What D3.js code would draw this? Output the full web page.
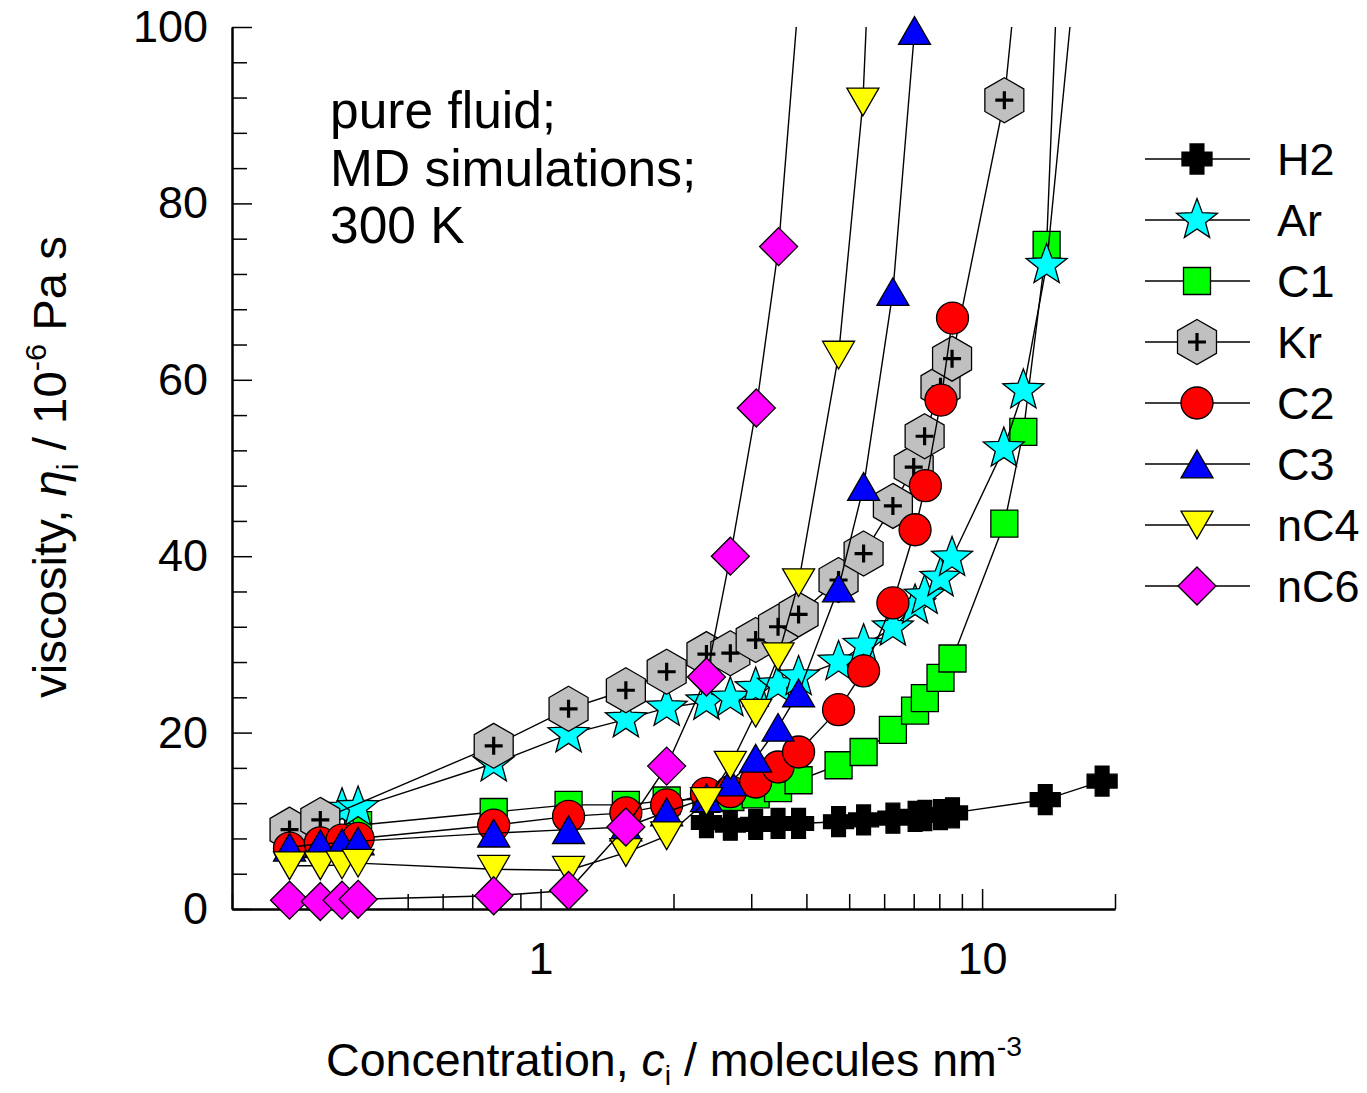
<!DOCTYPE html>
<html>
<head>
<meta charset="utf-8">
<script src="https://cdn.jsdelivr.net/npm/d3@7"></script>
<style>
  body { margin: 0; background: #fff; }
  svg { display: block; }
  text { font-family: "Liberation Sans", Arial, Helvetica, sans-serif; fill: #000; }
</style>
</head>
<body>
<svg id="chart" width="1367" height="1093"></svg>
<script>
// ---- data: concentration (molecules nm^-3) and viscosity (10^-6 Pa s) per fluid ----
// values above 100 are the next state point, outside the plotted range (line leaves the top)
const h2Conc  = [2.375, 2.69, 3.07, 3.45, 3.84, 4.73, 5.39, 6.28, 7.05, 7.42, 8.05, 8.57, 13.9, 18.7];
const h2Visc  = [9.8, 9.5, 9.6, 9.7, 9.7, 9.9, 10.1, 10.3, 10.5, 10.6, 10.7, 10.9, 12.4, 14.5];

const arConc  = [0.355, 0.386, 0.783, 1.157, 1.56, 1.93, 2.375, 2.69, 3.07, 3.45, 3.84, 4.73, 5.39, 6.28, 7.05, 7.41, 8.05, 8.55, 11.2, 12.4, 14.0, 18.1];
const arVisc  = [11.3, 11.5, 16.5, 19.8, 21.5, 22.8, 23.5, 23.9, 25.0, 25.4, 26.3, 28.0, 29.9, 31.9, 34.4, 35.5, 37.5, 39.8, 52.2, 58.8, 73.0, 130];

const c1Conc  = [0.386, 0.783, 1.157, 1.56, 1.93, 2.375, 2.69, 3.07, 3.45, 3.84, 4.73, 5.39, 6.28, 7.05, 7.42, 8.05, 8.57, 11.23, 12.4, 14.0, 15.5];
const c1Visc  = [9.5, 11.0, 11.8, 11.8, 12.3, 12.5, 12.7, 13.0, 13.7, 14.6, 16.3, 17.8, 20.3, 22.5, 23.9, 26.2, 28.4, 43.7, 54.1, 75.3, 130];

const krConc  = [0.27, 0.317, 0.783, 1.157, 1.56, 1.93, 2.375, 2.69, 3.07, 3.45, 3.84, 4.73, 5.39, 6.28, 7.0, 7.41, 8.05, 8.55, 11.23, 13.4];
const krVisc  = [9.0, 10.1, 18.5, 22.7, 24.8, 26.9, 28.9, 29.0, 30.5, 32.0, 33.4, 37.3, 40.3, 45.7, 50.1, 53.6, 59.2, 62.4, 91.7, 130];

const c2Conc  = [0.27, 0.317, 0.355, 0.386, 0.783, 1.157, 1.56, 1.93, 2.375, 2.69, 3.07, 3.45, 3.84, 4.73, 5.39, 6.28, 7.05, 7.44, 8.07, 8.57];
const c2Visc  = [6.9, 7.5, 7.8, 8.0, 9.5, 10.5, 10.9, 11.8, 13.1, 13.3, 14.4, 16.1, 17.8, 22.6, 27.0, 34.7, 43.0, 48.0, 57.7, 67.0];

const c3Conc  = [0.27, 0.317, 0.355, 0.386, 0.783, 1.157, 1.56, 1.93, 2.375, 2.69, 3.07, 3.45, 3.84, 4.73, 5.39, 6.28, 7.03];
const c3Visc  = [7.0, 7.4, 7.5, 7.7, 8.6, 9.0, 9.3, 11.0, 12.6, 14.4, 17.1, 20.6, 24.5, 36.4, 47.9, 70.0, 99.6];

const nc4Conc = [0.27, 0.317, 0.355, 0.386, 0.783, 1.157, 1.56, 1.93, 2.375, 2.69, 3.07, 3.45, 3.84, 4.73, 5.37, 5.8];
const nc4Visc = [4.9, 4.9, 5.0, 5.2, 4.5, 4.4, 6.4, 8.3, 12.2, 16.3, 22.2, 28.6, 37.0, 62.8, 91.5, 130];

const nc6Conc = [0.27, 0.317, 0.355, 0.386, 0.783, 1.157, 1.56, 1.93, 2.375, 2.69, 3.08, 3.46, 4.24];
const nc6Visc = [1.0, 0.85, 1.0, 1.1, 1.5, 2.1, 9.3, 16.2, 26.3, 40.0, 56.8, 75.1, 130];

const legendOrder = ["H2", "Ar", "C1", "Kr", "C2", "C3", "nC4", "nC6"];
const drawOrder   = ["H2", "C1", "Ar", "Kr", "C2", "C3", "nC4", "nC6"];
const xMajorTicks = [1, 10];
const yMajorTicks = [0, 20, 40, 60, 80, 100];

// ---- symbol shapes (size = characteristic width in px) ----
const shapes = {
  cross: { draw(ctx, s) { const h = s / 2, a = s * 0.23;
    ctx.moveTo(-a, -h); ctx.lineTo(a, -h); ctx.lineTo(a, -a); ctx.lineTo(h, -a); ctx.lineTo(h, a);
    ctx.lineTo(a, a); ctx.lineTo(a, h); ctx.lineTo(-a, h); ctx.lineTo(-a, a); ctx.lineTo(-h, a);
    ctx.lineTo(-h, -a); ctx.lineTo(-a, -a); ctx.closePath(); } },
  star: { draw(ctx, s) { const R = s / 2, r = R * 0.42;
    for (let i = 0; i < 10; i++) { const rad = i % 2 ? r : R, ang = -Math.PI / 2 + i * Math.PI / 5;
      const px = rad * Math.cos(ang), py = rad * Math.sin(ang);
      i ? ctx.lineTo(px, py) : ctx.moveTo(px, py); }
    ctx.closePath(); } },
  square: { draw(ctx, s) { const h = s / 2; ctx.rect(-h, -h, s, s); } },
  hexagon: { draw(ctx, s) { const R = s / 2;
    for (let i = 0; i < 6; i++) { const ang = -Math.PI / 2 + i * Math.PI / 3;
      const px = R * Math.cos(ang), py = R * Math.sin(ang);
      i ? ctx.lineTo(px, py) : ctx.moveTo(px, py); }
    ctx.closePath(); } },
  circle: { draw(ctx, s) { ctx.moveTo(s / 2, 0); ctx.arc(0, 0, s / 2, 0, 2 * Math.PI); } },
  triUp: { draw(ctx, s) { const h = s * 0.866 / 2;
    ctx.moveTo(0, -h); ctx.lineTo(s / 2, h); ctx.lineTo(-s / 2, h); ctx.closePath(); } },
  triDown: { draw(ctx, s) { const h = s * 0.866 / 2;
    ctx.moveTo(0, h); ctx.lineTo(s / 2, -h); ctx.lineTo(-s / 2, -h); ctx.closePath(); } },
  diamond: { draw(ctx, s) { const h = s / 2;
    ctx.moveTo(0, -h); ctx.lineTo(h, 0); ctx.lineTo(0, h); ctx.lineTo(-h, 0); ctx.closePath(); } }
};

const series = {
  H2:  { conc: h2Conc,  visc: h2Visc,  shape: "cross",   size: 30, fill: "#000000" },
  Ar:  { conc: arConc,  visc: arVisc,  shape: "star",    size: 43, fill: "#00FFFF" },
  C1:  { conc: c1Conc,  visc: c1Visc,  shape: "square",  size: 27, fill: "#00FF00" },
  Kr:  { conc: krConc,  visc: krVisc,  shape: "hexagon", size: 45, fill: "#C0C0C0", plus: true },
  C2:  { conc: c2Conc,  visc: c2Visc,  shape: "circle",  size: 32, fill: "#FF0000" },
  C3:  { conc: c3Conc,  visc: c3Visc,  shape: "triUp",   size: 32, fill: "#0000FF" },
  nC4: { conc: nc4Conc, visc: nc4Visc, shape: "triDown", size: 32, fill: "#FFFF00" },
  nC6: { conc: nc6Conc, visc: nc6Visc, shape: "diamond", size: 38, fill: "#FF00FF" }
};

// ---- layout ----
const svg = d3.select("#chart");
const plot = { left: 232, right: 1115, top: 27, bottom: 909 };
const x = d3.scaleLog().domain([0.2, 20]).range([plot.left, plot.right]);
const y = d3.scaleLinear().domain([0, 100]).range([plot.bottom, plot.top]);

svg.append("defs").append("clipPath").attr("id", "plotClip")
  .append("rect").attr("x", plot.left).attr("y", plot.top)
  .attr("width", plot.right - plot.left).attr("height", plot.bottom - plot.top);

// ---- axes ----
const xMinor = [];
[0.1, 1, 10].forEach(d => { for (let k = 2; k <= 9; k++) { const v = +(d * k).toPrecision(3); if (v >= 0.2 && v <= 20) xMinor.push(v); } });
const yMinor = d3.range(0, 101, 4).filter(v => v % 20 !== 0);

function styleAxis(g) {
  g.select(".domain").attr("stroke", "#000").attr("stroke-width", 2);
  g.selectAll(".tick line").attr("stroke", "#000").attr("stroke-width", 1.5);
  g.selectAll(".tick text").style("font-size", "45px").attr("fill", "#000");
}

svg.append("g").attr("transform", `translate(0,${plot.bottom})`)
  .call(d3.axisBottom(x).tickValues(xMinor).tickSizeInner(-15).tickSizeOuter(0).tickFormat(""))
  .call(styleAxis);
svg.append("g").attr("transform", `translate(0,${plot.bottom})`)
  .call(d3.axisBottom(x).tickValues(xMajorTicks).tickSizeInner(-20).tickSizeOuter(0).tickPadding(33).tickFormat(d3.format("d")))
  .call(styleAxis);
svg.append("g").attr("transform", `translate(${plot.left},0)`)
  .call(d3.axisLeft(y).tickValues(yMinor).tickSizeInner(-15).tickSizeOuter(0).tickFormat(""))
  .call(styleAxis);
svg.append("g").attr("transform", `translate(${plot.left},0)`)
  .call(d3.axisLeft(y).tickValues(yMajorTicks).tickSizeInner(-20).tickSizeOuter(0).tickPadding(24).tickFormat(d3.format("d")))
  .call(styleAxis);

// ---- series: connecting line then markers, one group per fluid ----
const line = d3.line().x(d => x(d[0])).y(d => y(d[1]));
drawOrder.forEach(name => {
  const s = series[name];
  const pts = s.conc.map((c, i) => [c, s.visc[i]]);
  const g = svg.append("g").attr("class", "series-" + name);
  g.append("path").attr("d", line(pts)).attr("clip-path", "url(#plotClip)")
    .attr("fill", "none").attr("stroke", "#000").attr("stroke-width", 1.4);
  const shown = pts.filter(d => d[1] <= 100.5);
  const sym = d3.symbol().type(shapes[s.shape]).size(s.size);
  g.selectAll("path.mk").data(shown).join("path").attr("class", "mk")
    .attr("transform", d => `translate(${x(d[0])},${y(d[1])})`)
    .attr("d", sym).attr("fill", s.fill).attr("stroke", "#000").attr("stroke-width", 1.3);
  if (s.plus) {
    g.selectAll("path.pl").data(shown).join("path").attr("class", "pl")
      .attr("transform", d => `translate(${x(d[0])},${y(d[1])})`)
      .attr("d", "M-9,0H9M0,-9V9").attr("stroke", "#000").attr("stroke-width", 3.2);
  }
});

// ---- legend ----
const legend = svg.append("g");
legendOrder.forEach((name, i) => {
  const s = series[name];
  const ly = 159 + i * 61;
  legend.append("line").attr("x1", 1145).attr("x2", 1250).attr("y1", ly).attr("y2", ly)
    .attr("stroke", "#000").attr("stroke-width", 1.4);
  legend.append("path").attr("transform", `translate(1197,${ly})`)
    .attr("d", d3.symbol().type(shapes[s.shape]).size(s.size)())
    .attr("fill", s.fill).attr("stroke", "#000").attr("stroke-width", 1.3);
  if (s.plus) legend.append("path").attr("transform", `translate(1197,${ly})`)
    .attr("d", "M-9,0H9M0,-9V9").attr("stroke", "#000").attr("stroke-width", 3.2);
  legend.append("text").attr("x", 1277).attr("y", ly).attr("dy", "0.36em")
    .style("font-size", "45px").text(name);
});

// ---- annotation ----
const note = svg.append("text").attr("x", 330).attr("y", 128).style("font-size", "51.5px");
["pure fluid;", "MD simulations;", "300 K"].forEach((t, i) =>
  note.append("tspan").attr("x", 330).attr("dy", i ? 57.5 : 0).text(t));

// ---- axis titles ----
function fitWidth(sel, target) {
  const w = sel.node().getBBox().width;
  return w > 0 ? target / w : 1;
}

const xt = svg.append("text").attr("text-anchor", "middle").style("font-size", "46px");
xt.append("tspan").text("Concentration, ");
xt.append("tspan").style("font-style", "italic").text("c");
xt.append("tspan").style("font-size", "28px").attr("dy", 9).text("i");
xt.append("tspan").attr("dy", -9).text(" / molecules nm");
xt.append("tspan").style("font-size", "28px").attr("dy", -20).text("-3");
const kx = fitWidth(xt, 696);
xt.attr("transform", `translate(674,1076) scale(${kx},1)`);

const yt = svg.append("text").attr("text-anchor", "middle").style("font-size", "46px");
yt.append("tspan").text("viscosity, ");
yt.append("tspan").style("font-style", "italic").text("\u03B7");
yt.append("tspan").style("font-size", "30px").attr("dy", 12).text("i");
yt.append("tspan").attr("dy", -12).text(" / 10");
yt.append("tspan").style("font-size", "30px").attr("dy", -20).text("-6");
yt.append("tspan").attr("dy", 20).text(" Pa s");
const ky = fitWidth(yt, 462);
yt.attr("transform", `translate(66,467) rotate(-90) scale(${ky},1)`);
</script>
</body>
</html>
